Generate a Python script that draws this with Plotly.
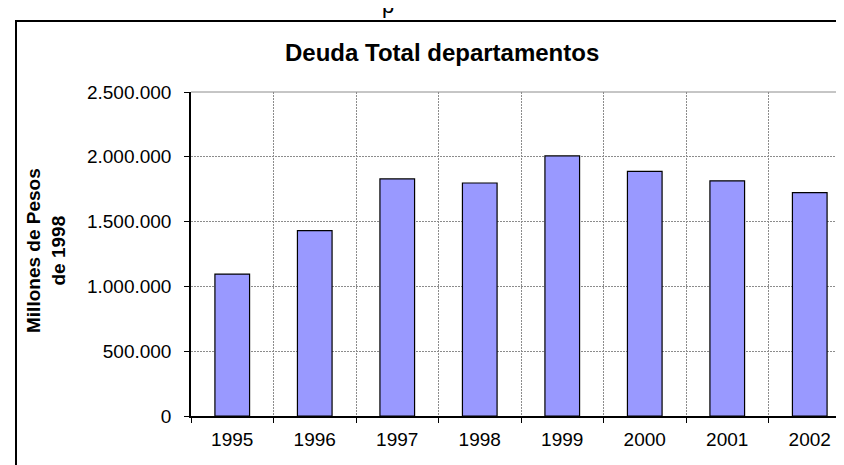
import plotly.graph_objects as go

years = ["1995", "1996", "1997", "1998", "1999", "2000", "2001", "2002"]
deuda = [1095000, 1430000, 1829000, 1798000, 2007000, 1887000, 1815000, 1723000]
y_ticks = [0, 500000, 1000000, 1500000, 2000000, 2500000]

title_text = "Deuda Total departamentos"
y_title = "Millones de Pesos<br>de 1998"

FONT = "Liberation Sans, Arial, sans-serif"
W, H = 844, 465
L, R, T, B = 183, 1, 84, 57
pw, ph = W - L - R, H - T - B

def px_x(x):
    return (x - L) / pw

def px_y(y):
    return (H - B - y) / ph

fig = go.Figure()
fig.add_trace(go.Bar(
    x=years, y=deuda,
    marker=dict(color="#9999FF", line=dict(color="black", width=1.2)),
    hoverinfo="x+y",
))

grid = dict(gridcolor="#8c8c8c", gridwidth=1, griddash="2px,1px")

fig.update_layout(
    width=W, height=H,
    margin=dict(l=L, r=R, t=T, b=B),
    paper_bgcolor="white", plot_bgcolor="white",
    separators=",.",
    bargap=0.58,
    showlegend=False,
    font=dict(family=FONT, color="black", size=19),
    xaxis=dict(
        type="category", tickson="boundaries", ticks="outside", ticklen=5,
        tickcolor="black", showline=True, linecolor="black", linewidth=1.5,
        showgrid=True, tickfont=dict(size=19), ticklabelstandoff=5, **grid,
    ),
    yaxis=dict(
        range=[0, 2500000], tickvals=y_ticks, tickformat=",d",
        ticks="outside", ticklen=5, tickcolor="black",
        showline=True, linecolor="black", linewidth=1.5,
        showgrid=True, zeroline=False, tickfont=dict(size=19),
        ticklabelstandoff=9, **grid,
    ),
    annotations=[
        dict(text="<b>" + title_text + "</b>", xref="paper", yref="paper",
             x=px_x(434), y=px_y(45), xanchor="center", yanchor="middle",
             showarrow=False, font=dict(size=24, family=FONT)),
        dict(text="<b>" + y_title + "</b>", xref="paper", yref="paper",
             x=px_x(38), y=px_y(243), xanchor="center", yanchor="middle",
             textangle=-90, showarrow=False, font=dict(size=19, family=FONT)),
        dict(text="p", xref="paper", yref="paper",
             x=px_x(380), y=px_y(-2), xanchor="center", yanchor="middle",
             showarrow=False, font=dict(size=22, family=FONT)),
    ],
    shapes=[
        dict(type="line", xref="paper", yref="paper", x0=1, x1=1, y0=0, y1=1,
             line=dict(color="#8c8c8c", width=1)),
        dict(type="line", xref="paper", yref="paper", x0=0, x1=1, y0=1, y1=1,
             line=dict(color="#8c8c8c", width=1)),
        dict(type="rect", xref="paper", yref="paper",
             x0=px_x(8), x1=px_x(860), y0=px_y(480), y1=px_y(13),
             line=dict(color="black", width=2), fillcolor="rgba(0,0,0,0)"),
    ],
)

fig.write_html("out.html")
